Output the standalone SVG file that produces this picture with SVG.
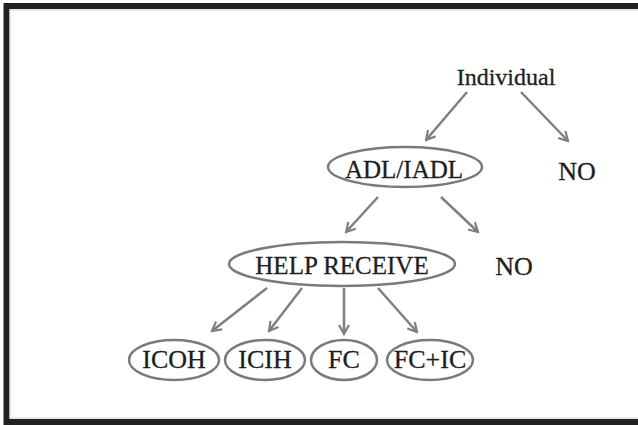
<svg xmlns="http://www.w3.org/2000/svg" width="638" height="425" viewBox="0 0 638 425">
<style>
.t{font-family:"Liberation Serif","Times New Roman",serif;fill:#1e1e1e;stroke:#1e1e1e;stroke-width:0.3;text-anchor:middle}
.e{fill:none;stroke:#7a7a7a;stroke-width:2.5}
.c{stroke:#7f7f7f;stroke-width:2.5;fill:none;marker-end:url(#ah)}
</style>
<defs>
<marker id="ah" viewBox="0 0 12 12" refX="10" refY="6" markerWidth="12" markerHeight="12" markerUnits="userSpaceOnUse" orient="auto">
<path d="M1,1 L10,6 L1,11" fill="none" stroke="#7f7f7f" stroke-width="2.2"/>
</marker>
</defs>
<rect width="638" height="425" fill="#ffffff"/>
<rect x="6.5" y="6" width="700" height="416" fill="none" stroke="#222222" stroke-width="6"/>
<rect x="10" y="10" width="700" height="408" fill="none" stroke="#cfcfcf" stroke-width="1"/>
<g id="connectors">
<line class="c" x1="467" y1="92" x2="426" y2="140"/>
<line class="c" x1="521" y1="92" x2="568" y2="141"/>
<line class="c" x1="378" y1="197" x2="346" y2="232"/>
<line class="c" x1="441" y1="197" x2="478" y2="232"/>
<line class="c" x1="267" y1="288" x2="212" y2="331"/>
<line class="c" x1="302" y1="288" x2="269" y2="331"/>
<line class="c" x1="344" y1="288" x2="344" y2="334"/>
<line class="c" x1="378" y1="288" x2="417" y2="332"/>
</g>
<g id="individual"><text class="t" x="506" y="85" font-size="24">Individual</text></g>
<g id="no1"><text class="t" x="577" y="180" font-size="26">NO</text></g>
<g id="adl"><ellipse class="e" cx="405" cy="167" rx="77" ry="20"/><text class="t" x="404" y="178" font-size="25">ADL/IADL</text></g>
<g id="no2"><text class="t" x="514" y="275" font-size="26">NO</text></g>
<g id="help"><ellipse class="e" cx="342" cy="264" rx="113" ry="22"/><text class="t" x="342" y="274" font-size="25">HELP RECEIVE</text></g>
<g id="icoh"><ellipse class="e" cx="174" cy="360" rx="45" ry="20"/><text class="t" x="174" y="368" font-size="26">ICOH</text></g>
<g id="icih"><ellipse class="e" cx="265" cy="360" rx="40" ry="20"/><text class="t" x="265" y="368" font-size="26">ICIH</text></g>
<g id="fc"><ellipse class="e" cx="344" cy="360" rx="33" ry="20"/><text class="t" x="344" y="368" font-size="26">FC</text></g>
<g id="fcic"><ellipse class="e" cx="430" cy="360" rx="43" ry="20"/><text class="t" x="430" y="368" font-size="26">FC+IC</text></g>
</svg>
